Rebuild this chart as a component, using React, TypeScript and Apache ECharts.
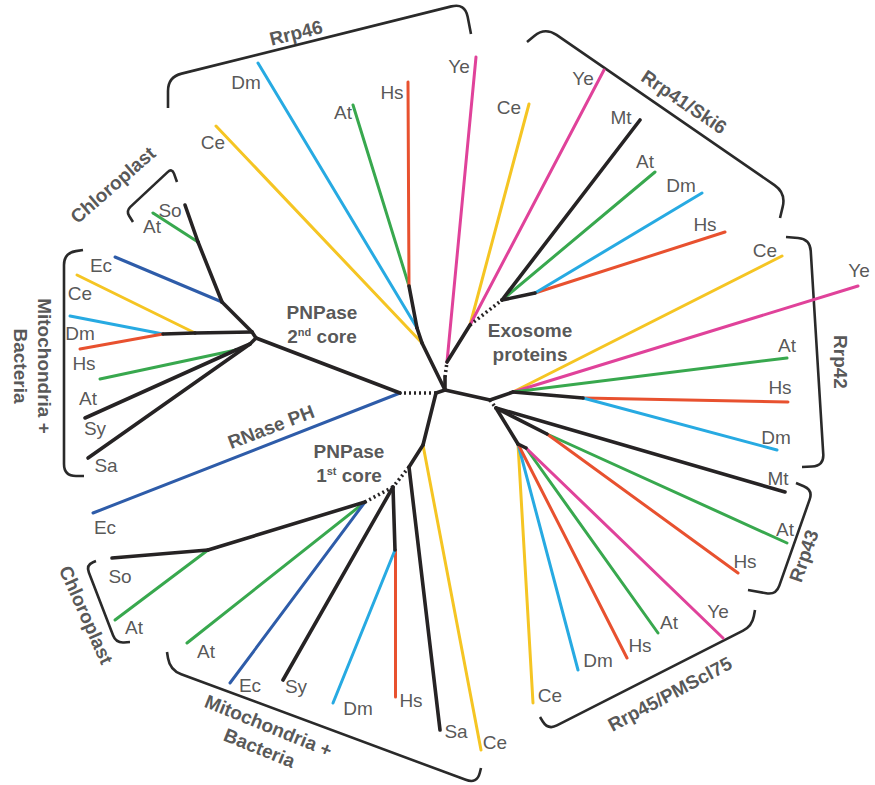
import React, { useEffect, useRef } from "react";
import * as echarts from "echarts";

// colour keys for branches
const palette: Record<string, string> = {
  k: "#262324",
  y: "#f5c523",
  b: "#27aae2",
  r: "#e8512f",
  g: "#38a84e",
  p: "#e0429a",
  e: "#2e5ca9",
};

// tree nodes: id, x, y (layout units of the unrooted tree)
const nodes: [string, number, number][] = [
  ["C0", 445, 390], ["C0L", 436, 393], ["PN2", 400, 393], ["C0U", 445, 377],
  ["X1", 447, 362], ["E1", 470, 325], ["R41a", 502, 300], ["R41b", 535, 293],
  ["R46c", 422, 343], ["R46b", 417, 328], ["R46a", 409, 286],
  ["N0", 490, 400], ["R42a", 513, 392], ["R42b", 583, 398],
  ["N1", 496, 408], ["R43b", 547, 434], ["R45", 518, 444], ["R45b", 526, 448],
  ["P1y", 423, 445], ["P1a", 409, 467], ["P1b", 393, 487], ["P1c", 365, 502],
  ["P1d", 208, 550], ["P1e", 395, 550],
  ["P2", 256, 338], ["P2a", 252, 332], ["P2b", 250, 344], ["P2c", 236, 350],
  ["P2d", 195, 333], ["P2e", 163, 334], ["P2f", 222, 302], ["P2g", 198, 242],
  // leaves
  ["L46Ce", 216, 126], ["L46Dm", 258, 63], ["L46At", 353, 105], ["L46Hs", 408, 82], ["LYe1", 476, 57],
  ["L41Ce", 529, 104], ["L41Ye", 604, 70], ["L41Mt", 640, 120], ["L41At", 655, 172], ["L41Dm", 702, 193], ["L41Hs", 725, 232],
  ["L42Ce", 782, 256], ["L42Ye", 858, 286], ["L42At", 787, 358], ["L42Hs", 788, 402], ["L42Dm", 777, 450],
  ["L43Mt", 785, 492], ["L43At", 787, 543], ["L43Hs", 738, 573],
  ["L45Ye", 723, 638], ["L45At", 658, 633], ["L45Hs", 627, 658], ["L45Dm", 578, 670], ["L45Ce", 533, 703],
  ["L1Ce", 481, 750], ["L1Sa", 440, 730], ["L1Hs", 395, 697], ["L1Dm", 333, 703], ["L1Sy", 283, 680],
  ["L1Ec", 230, 683], ["L1At", 187, 643], ["L1cAt", 115, 620], ["L1cSo", 112, 558],
  ["LRnEc", 93, 513],
  ["L2So", 185, 205], ["L2At", 153, 213], ["L2Ec", 115, 257], ["L2Ce", 77, 275], ["L2Dm", 70, 316],
  ["L2Hs", 80, 349], ["L2At2", 100, 379], ["L2Sy", 85, 418], ["L2Sa", 88, 458],
];

// branches: from, to, colour key, dotted (1) or solid (0)
const edges: [string, string, string, number][] = [
  ["C0", "C0L", "k", 0], ["C0L", "PN2", "k", 1], ["PN2", "P2", "k", 0], ["PN2", "LRnEc", "e", 0],
  ["P2", "P2a", "k", 0], ["P2", "P2b", "k", 0],
  ["P2a", "P2d", "k", 0], ["P2d", "P2e", "k", 0], ["P2d", "L2Ce", "y", 0], ["P2e", "L2Dm", "b", 0], ["P2e", "L2Hs", "r", 0],
  ["P2a", "P2f", "k", 0], ["P2f", "L2Ec", "e", 0], ["P2f", "P2g", "k", 0], ["P2g", "L2So", "k", 0], ["P2g", "L2At", "g", 0],
  ["P2b", "P2c", "k", 0], ["P2c", "L2At2", "g", 0], ["P2c", "L2Sy", "k", 0], ["P2b", "L2Sa", "k", 0],
  ["C0L", "P1y", "k", 0], ["P1y", "L1Ce", "y", 0], ["P1y", "P1a", "k", 0], ["P1a", "L1Sa", "k", 0],
  ["P1a", "P1b", "k", 1], ["P1b", "L1Sy", "k", 0], ["P1b", "P1e", "k", 0], ["P1e", "L1Hs", "r", 0], ["P1e", "L1Dm", "b", 0],
  ["P1b", "P1c", "k", 1], ["P1c", "L1At", "g", 0], ["P1c", "L1Ec", "e", 0], ["P1c", "P1d", "k", 0],
  ["P1d", "L1cSo", "k", 0], ["P1d", "L1cAt", "g", 0],
  ["C0", "R46c", "k", 0], ["R46c", "L46Ce", "y", 0], ["R46c", "R46b", "k", 0], ["R46b", "L46Dm", "b", 0],
  ["R46b", "R46a", "k", 0], ["R46a", "L46At", "g", 0], ["R46a", "L46Hs", "r", 0],
  ["C0", "C0U", "k", 0], ["C0U", "X1", "k", 1], ["X1", "LYe1", "p", 0], ["X1", "E1", "k", 0],
  ["E1", "L41Ce", "y", 0], ["E1", "L41Ye", "p", 0], ["E1", "R41a", "k", 1], ["R41a", "L41Mt", "k", 0],
  ["R41a", "L41At", "g", 0], ["R41a", "R41b", "k", 0], ["R41b", "L41Hs", "r", 0], ["R41b", "L41Dm", "b", 0],
  ["C0", "N0", "k", 0], ["N0", "R42a", "k", 0], ["R42a", "L42Ce", "y", 0], ["R42a", "L42Ye", "p", 0],
  ["R42a", "L42At", "g", 0], ["R42a", "R42b", "k", 0], ["R42b", "L42Hs", "r", 0], ["R42b", "L42Dm", "b", 0],
  ["N0", "N1", "k", 1], ["N1", "L43Mt", "k", 0], ["N1", "R43b", "k", 0], ["R43b", "L43At", "g", 0], ["R43b", "L43Hs", "r", 0],
  ["N1", "R45", "k", 0], ["R45", "L45Ce", "y", 0], ["R45", "L45Dm", "b", 0], ["R45", "L45Hs", "r", 0],
  ["R45", "R45b", "k", 0], ["R45b", "L45At", "g", 0], ["R45b", "L45Ye", "p", 0],
];

// species labels at the branch tips: text, x, y
const leafLabels: [string, number, number][] = [
  ["Ce", 213, 142], ["Dm", 246, 82], ["At", 343, 112], ["Hs", 392, 92], ["Ye", 459, 66],
  ["Ce", 509, 107], ["Ye", 583, 78], ["Mt", 621, 117], ["At", 645, 161], ["Dm", 681, 185], ["Hs", 705, 224],
  ["Ce", 765, 250], ["Ye", 859, 270], ["At", 787, 345], ["Hs", 780, 387], ["Dm", 776, 437],
  ["Mt", 778, 478], ["At", 785, 529], ["Hs", 745, 561],
  ["Ye", 718, 611], ["At", 669, 622], ["Hs", 640, 645], ["Dm", 598, 660], ["Ce", 550, 695],
  ["Ce", 495, 742], ["Sa", 456, 731], ["Hs", 411, 700], ["Dm", 358, 708], ["Sy", 296, 686],
  ["Ec", 250, 685], ["At", 206, 651], ["At", 134, 627], ["So", 120, 576],
  ["Ec", 105, 527],
  ["So", 170, 210], ["At", 152, 226], ["Ec", 101, 265], ["Ce", 80, 293], ["Dm", 80, 333],
  ["Hs", 84, 363], ["At", 88, 398], ["Sy", 95, 428], ["Sa", 106, 465],
];

// group labels: text, x, y, rotation (degrees, anticlockwise)
const groupLabels: [string, number, number, number][] = [
  ["Rrp46", 296, 33, 14],
  ["Rrp41/Ski6", 684, 102, -34],
  ["Rrp42", 840, 362, -90],
  ["Rrp43", 804, 556, 71],
  ["Rrp45/PMScl75", 670, 694, 28],
  ["Mitochondria +\nBacteria", 264, 737, -22],
  ["Chloroplast", 86, 615, -66],
  ["Mitochondria +\nBacteria", 32, 366, -90],
  ["Chloroplast", 113, 185, 41],
  ["Exosome\nproteins", 530, 342, 0],
  ["PNPase\n2{s|nd} core", 322, 324, 0],
  ["RNase PH", 271, 427, 21],
  ["PNPase\n1{s|st} core", 349, 463, 0],
];

// brackets: hook start, corner 1, corner 2, hook end, corner radius
const brackets: number[][] = [
  [168, 108, 168, 77, 465, 3, 471, 34, 14],
  [527, 42, 545, 27, 786, 193, 780, 218, 14],
  [786, 237, 810, 239, 824, 466, 802, 467, 12],
  [796, 483, 813, 490, 776, 595, 748, 590, 10],
  [755, 610, 752, 626, 548, 730, 540, 717, 10],
  [167, 652, 170, 670, 477, 784, 481, 768, 12],
  [96, 561, 86, 565, 116, 643, 130, 642, 8],
  [83, 250, 64, 253, 64, 476, 84, 476, 12],
  [133, 222, 126, 211, 172, 168, 177, 182, 6],
];

const textColour = "#2b2b2b";
const fontFamily = "'Liberation Sans', Arial, Helvetica, sans-serif";

function buildOption() {
  const pos: Record<string, [number, number]> = {};
  nodes.forEach(([id, x, y]) => (pos[id] = [x, y]));
  const edgeItem = (e: [string, string, string, number]) => ({
    coords: [pos[e[0]], pos[e[1]]],
    lineStyle: {
      color: palette[e[2]],
      width: e[2] === "k" ? 3.6 : 3,
      type: e[3] ? [2, 3] : "solid",
      opacity: 1,
      cap: e[3] ? "butt" : "round",
    },
  });
  const colourEdges = edges.filter((e) => e[2] !== "k").map(edgeItem);
  const blackEdges = edges.filter((e) => e[2] === "k").map(edgeItem);

  return {
    animation: false,
    grid: { left: 0, right: 0, top: 0, bottom: 0 },
    xAxis: { type: "value", min: 0, max: 875, show: false },
    yAxis: { type: "value", min: 0, max: 785, inverse: true, show: false },
    series: [
      {
        type: "custom",
        coordinateSystem: "cartesian2d",
        silent: true,
        z: 1,
        data: brackets,
        renderItem: (_params: any, api: any) => {
          const p = [0, 1, 2, 3].map((i) => api.coord([api.value(i * 2), api.value(i * 2 + 1)]));
          const r = api.value(8);
          const toward = (a: number[], b: number[], d: number) => {
            const dx = b[0] - a[0], dy = b[1] - a[1];
            const len = Math.hypot(dx, dy) || 1;
            const dd = Math.min(d, len * 0.7);
            return [a[0] + (dx / len) * dd, a[1] + (dy / len) * dd];
          };
          const [hs, c1, c2, he] = p;
          const a1 = toward(c1, hs, r), b1 = toward(c1, c2, r);
          const a2 = toward(c2, c1, r), b2 = toward(c2, he, r);
          const d = `M${hs[0]},${hs[1]} L${a1[0]},${a1[1]} Q${c1[0]},${c1[1]} ${b1[0]},${b1[1]} L${a2[0]},${a2[1]} Q${c2[0]},${c2[1]} ${b2[0]},${b2[1]} L${he[0]},${he[1]}`;
          return {
            type: "path",
            shape: { pathData: d },
            style: { fill: "none", stroke: "#2a2a2a", lineWidth: 2.6 },
          };
        },
      },
      {
        type: "lines",
        coordinateSystem: "cartesian2d",
        silent: true,
        z: 2,
        data: colourEdges,
      },
      {
        type: "lines",
        coordinateSystem: "cartesian2d",
        silent: true,
        z: 3,
        data: blackEdges,
      },
      {
        type: "scatter",
        silent: true,
        z: 4,
        symbolSize: 0,
        data: leafLabels.map(([t, x, y]) => ({ name: t, value: [x, y] })),
        label: {
          show: true,
          position: "inside",
          formatter: (p: any) => p.name,
          fontSize: 19,
          fontFamily,
          color: textColour,
        },
      },
      {
        type: "scatter",
        silent: true,
        z: 5,
        symbolSize: 0,
        data: groupLabels.map(([t, x, y, rot]) => ({
          name: t,
          value: [x, y],
          label: { rotate: rot },
        })),
        label: {
          show: true,
          position: "inside",
          formatter: (p: any) => p.name,
          fontSize: 19,
          fontWeight: "bold",
          fontFamily,
          color: textColour,
          align: "center",
          lineHeight: 24,
          rich: {
            s: { fontSize: 11, fontWeight: "bold", fontFamily, color: textColour, padding: [0, 0, 9, 0] },
          },
        },
      },
    ],
  };
}

export default function App() {
  const ref = useRef<HTMLDivElement>(null);
  useEffect(() => {
    document.body.style.margin = "0";
    const chart = echarts.init(ref.current as HTMLDivElement, null, { renderer: "svg" });
    chart.setOption(buildOption() as any);
    return () => chart.dispose();
  }, []);
  return <div ref={ref} style={{ width: 875, height: 785, background: "#fff" }} />;
}
